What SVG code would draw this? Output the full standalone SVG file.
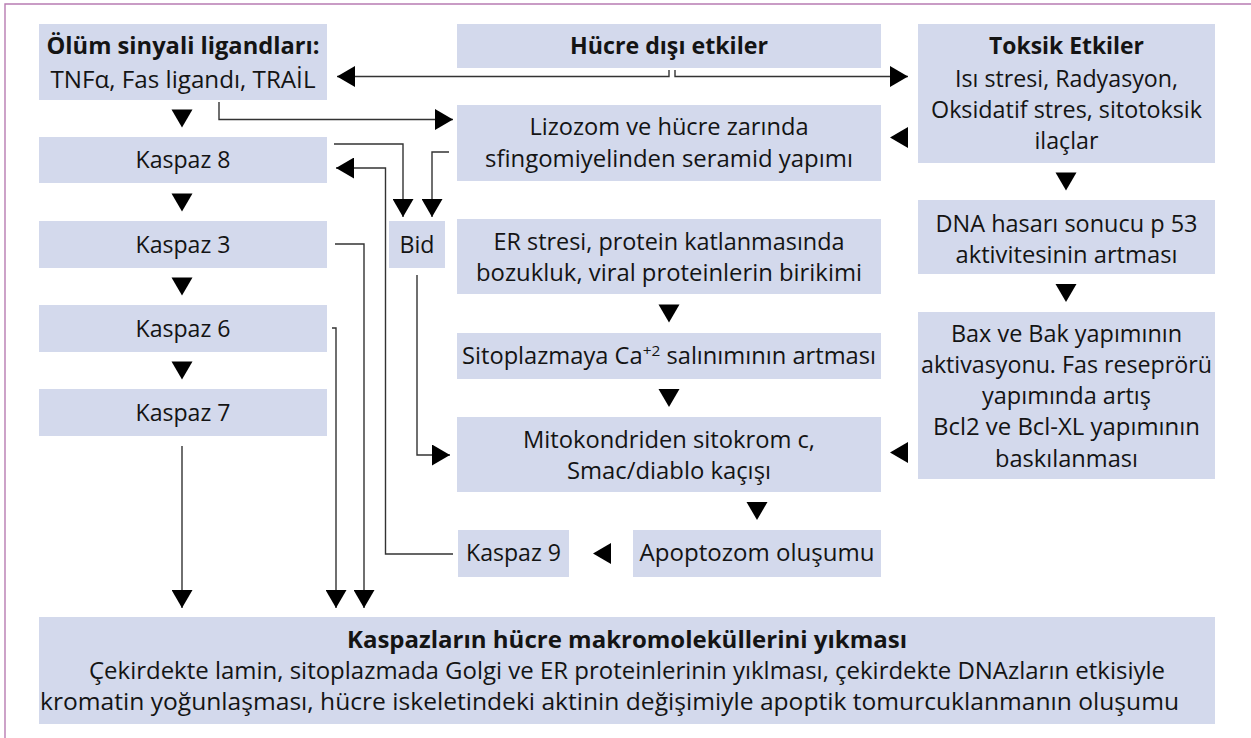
<svg xmlns="http://www.w3.org/2000/svg" xmlns:xlink="http://www.w3.org/1999/xlink" width="1251" height="738" viewBox="0 0 1251 738">
<style>
.box{fill:#d3d9ec}
.t{font-family:"Open Sans","Noto Sans","Liberation Sans",sans-serif;font-size:23px;fill:#141414;text-anchor:middle}
.b{font-weight:bold}
.c{fill:none;stroke:#333;stroke-width:1.4}
.tri{fill:#000}
.frame{fill:none;stroke:#b87cb2;stroke-width:1.4}
</style>
<defs>
<marker id="ah" viewBox="0 0 18 21" refX="18" refY="10.5" markerWidth="18" markerHeight="21" markerUnits="userSpaceOnUse" orient="auto"><path d="M0,0 L18,10.5 L0,21 Z" fill="#000"/></marker>
<path id="td" d="M-10.5,0 H10.5 L0,18 Z"/>
<path id="tl" d="M0,0 L18,-10.5 L18,10.5 Z"/>
</defs>
<path class="frame" d="M5,738 V4 H1251"/>

<g id="connectors">
<path class="c" d="M669,70 V76.5 H337" marker-end="url(#ah)"/>
<path class="c" d="M675,70 V76.5 H908" marker-end="url(#ah)"/>
<path class="c" d="M219,102 V119.5 H453" marker-end="url(#ah)"/>
<path class="c" d="M334,144 H403 V217" marker-end="url(#ah)"/>
<path class="c" d="M449,152 H432 V217" marker-end="url(#ah)"/>
<path class="c" d="M453,554 H385.5 V168 H336" marker-end="url(#ah)"/>
<path class="c" d="M417,275 V455 H450" marker-end="url(#ah)"/>
<path class="c" d="M335,244 H364 V608" marker-end="url(#ah)"/>
<path class="c" d="M332,328 H336 V608" marker-end="url(#ah)"/>
<path class="c" d="M182,446 V608" marker-end="url(#ah)"/>
<g class="tri">
<use xlink:href="#td" x="182" y="109.5"/>
<use xlink:href="#td" x="182" y="193.5"/>
<use xlink:href="#td" x="182" y="277.5"/>
<use xlink:href="#td" x="182" y="361.5"/>
<use xlink:href="#td" x="1066" y="172.5"/>
<use xlink:href="#td" x="1066" y="284"/>
<use xlink:href="#td" x="669" y="304.5"/>
<use xlink:href="#td" x="669" y="389"/>
<use xlink:href="#td" x="757" y="502"/>
<use xlink:href="#tl" x="890" y="137.5"/>
<use xlink:href="#tl" x="890" y="452.5"/>
<use xlink:href="#tl" x="593" y="553.5"/>
</g>
</g>

<g id="olum">
<rect class="box" x="39" y="24" width="288" height="76"/>
<text class="t b" x="183" y="54" textLength="273" lengthAdjust="spacingAndGlyphs">Ölüm sinyali ligandları:</text>
<text class="t" x="183" y="88" textLength="265" lengthAdjust="spacingAndGlyphs">TNFα, Fas ligandı, TRAİL</text>
</g>
<g id="hucre-disi">
<rect class="box" x="457" y="24" width="424" height="44"/>
<text class="t b" x="669" y="54" textLength="198" lengthAdjust="spacingAndGlyphs">Hücre dışı etkiler</text>
</g>
<g id="toksik">
<rect class="box" x="918" y="24" width="297" height="139"/>
<text class="t b" x="1066.5" y="54" textLength="155" lengthAdjust="spacingAndGlyphs">Toksik Etkiler</text>
<text class="t" x="1066.5" y="87" textLength="223" lengthAdjust="spacingAndGlyphs">Isı stresi, Radyasyon,</text>
<text class="t" x="1066.5" y="118" textLength="271" lengthAdjust="spacingAndGlyphs">Oksidatif stres, sitotoksik</text>
<text class="t" x="1066.5" y="149" textLength="64" lengthAdjust="spacingAndGlyphs">ilaçlar</text>
</g>
<g id="lizozom">
<rect class="box" x="457" y="105" width="424" height="76"/>
<text class="t" x="669" y="135" textLength="279" lengthAdjust="spacingAndGlyphs">Lizozom ve hücre zarında</text>
<text class="t" x="669" y="167" textLength="368" lengthAdjust="spacingAndGlyphs">sfingomiyelinden seramid yapımı</text>
</g>
<g id="kaspaz8">
<rect class="box" x="39" y="137" width="288" height="46"/>
<text class="t" x="183" y="168" textLength="95" lengthAdjust="spacingAndGlyphs">Kaspaz 8</text>
</g>
<g id="kaspaz3">
<rect class="box" x="39" y="221" width="288" height="47"/>
<text class="t" x="183" y="252.5" textLength="95" lengthAdjust="spacingAndGlyphs">Kaspaz 3</text>
</g>
<g id="kaspaz6">
<rect class="box" x="39" y="305" width="288" height="47"/>
<text class="t" x="183" y="336.5" textLength="95" lengthAdjust="spacingAndGlyphs">Kaspaz 6</text>
</g>
<g id="kaspaz7">
<rect class="box" x="39" y="389" width="288" height="47"/>
<text class="t" x="183" y="420.5" textLength="95" lengthAdjust="spacingAndGlyphs">Kaspaz 7</text>
</g>
<g id="bid">
<rect class="box" x="389" y="221" width="56" height="47"/>
<text class="t" x="417" y="252.5" textLength="35" lengthAdjust="spacingAndGlyphs">Bid</text>
</g>
<g id="er-stresi">
<rect class="box" x="457" y="219" width="424" height="75"/>
<text class="t" x="669" y="250" textLength="351" lengthAdjust="spacingAndGlyphs">ER stresi, protein katlanmasında</text>
<text class="t" x="669" y="281" textLength="386" lengthAdjust="spacingAndGlyphs">bozukluk, viral proteinlerin birikimi</text>
</g>
<g id="sitoplazma">
<rect class="box" x="457" y="333" width="424" height="46"/>
<text class="t" x="669" y="364" textLength="414" lengthAdjust="spacingAndGlyphs">Sitoplazmaya Ca<tspan dy="-8" font-size="15">+2</tspan><tspan dy="8"> salınımının artması</tspan></text>
</g>
<g id="mitokondri">
<rect class="box" x="457" y="417" width="424" height="75"/>
<text class="t" x="669" y="448" textLength="292" lengthAdjust="spacingAndGlyphs">Mitokondriden sitokrom c,</text>
<text class="t" x="669" y="479" textLength="204" lengthAdjust="spacingAndGlyphs">Smac/diablo kaçışı</text>
</g>
<g id="dna">
<rect class="box" x="918" y="200" width="297" height="74"/>
<text class="t" x="1066.5" y="232" textLength="262" lengthAdjust="spacingAndGlyphs">DNA hasarı sonucu p 53</text>
<text class="t" x="1066.5" y="263" textLength="222" lengthAdjust="spacingAndGlyphs">aktivitesinin artması</text>
</g>
<g id="bax">
<rect class="box" x="918" y="312" width="297" height="167"/>
<text class="t" x="1066.5" y="342" textLength="231" lengthAdjust="spacingAndGlyphs">Bax ve Bak yapımının</text>
<text class="t" x="1066.5" y="373" textLength="291" lengthAdjust="spacingAndGlyphs">aktivasyonu. Fas reseprörü</text>
<text class="t" x="1066.5" y="404" textLength="169" lengthAdjust="spacingAndGlyphs">yapımında artış</text>
<text class="t" x="1066.5" y="435" textLength="267" lengthAdjust="spacingAndGlyphs">Bcl2 ve Bcl-XL yapımının</text>
<text class="t" x="1066.5" y="467" textLength="143" lengthAdjust="spacingAndGlyphs">baskılanması</text>
</g>
<g id="kaspaz9">
<rect class="box" x="458" y="530" width="111" height="47"/>
<text class="t" x="513.5" y="561" textLength="95" lengthAdjust="spacingAndGlyphs">Kaspaz 9</text>
</g>
<g id="apoptozom">
<rect class="box" x="633" y="530" width="248" height="47"/>
<text class="t" x="757" y="561" textLength="235" lengthAdjust="spacingAndGlyphs">Apoptozom oluşumu</text>
</g>
<g id="yikim">
<rect class="box" x="39" y="617" width="1176" height="107"/>
<text class="t b" x="627" y="648" textLength="560" lengthAdjust="spacingAndGlyphs">Kaspazların hücre makromoleküllerini yıkması</text>
<text class="t" x="627" y="679" textLength="1076" lengthAdjust="spacingAndGlyphs">Çekirdekte lamin, sitoplazmada Golgi ve ER proteinlerinin yıklması, çekirdekte DNAzların etkisiyle</text>
<text class="t" x="609.5" y="710" textLength="1139" lengthAdjust="spacingAndGlyphs">kromatin yoğunlaşması, hücre iskeletindeki aktinin değişimiyle apoptik tomurcuklanmanın oluşumu</text>
</g>
</svg>
